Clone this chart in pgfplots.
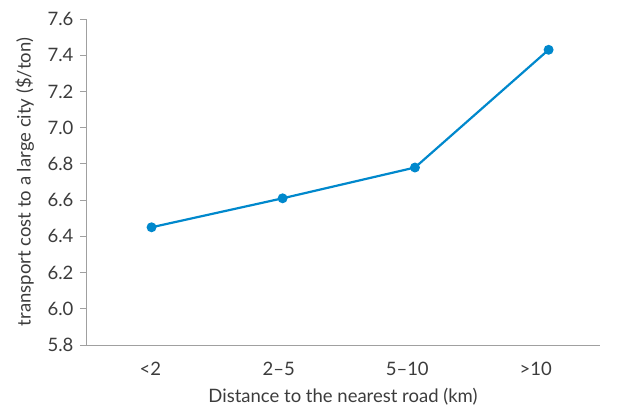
\documentclass[border=0pt]{standalone}
\usepackage{fontspec}
\setmainfont{Lato}
\usepackage{pgfplots}
\pgfplotsset{compat=1.18}
\definecolor{lineblue}{RGB}{0,136,204}
\definecolor{axisgray}{RGB}{160,160,160}
\definecolor{textgray}{RGB}{60,60,60}
\begin{document}
\begin{tikzpicture}
\begin{axis}[
  name=main,
  scale only axis,
  width=514pt, height=326pt,
  xmin=0, xmax=4,
  ymin=5.8, ymax=7.6,
  ytick={5.8,6.0,...,7.6},
  yticklabel style={/pgf/number format/fixed,/pgf/number format/fixed zerofill,/pgf/number format/precision=1, xshift=-3pt},
  /pgf/number format/assume math mode=true,
  xtick={0.5,1.5,2.5,3.5},
  xticklabels={<2,2--5,5--10,>10},
  extra x ticks={0,1,2,3,4},
  extra x tick labels={},
  extra x tick style={major tick length=7pt, tick style={axisgray, line width=0.8pt}},
  major x tick style={draw=none},
  axis x line*=bottom,
  axis y line*=left,
  axis line style={axisgray, line width=0.8pt, -},
  tick style={axisgray, line width=0.8pt},
  tick align=outside,
  major tick length=6pt,
  ticklabel style={font=\fontsize{18.5}{22}\selectfont, text=textgray},
  xticklabel style={yshift=-8pt},
  xlabel={Distance to the nearest road (km)},
  ylabel={transport cost to a large city (\$/ton)},
  label style={font=\fontsize{18.5}{22}\selectfont, text=textgray},
  xlabel style={at={(axis description cs:0.5,-0.16)}, anchor=center},
  ylabel style={at={(axis description cs:-0.119,0.5)}, anchor=center, rotate=0},
  clip=false,
]
\addplot[lineblue, line width=2.2pt, mark=*, mark size=3.8pt, mark options={fill=lineblue, draw=lineblue}]
  coordinates {(0.51,6.45) (1.53,6.61) (2.56,6.78) (3.6,7.43)};
\end{axis}
\path (main.south west) ++(-86pt,-71pt) coordinate (bbsw);
\path (main.south west) ++(531pt,345pt) coordinate (bbne);
\useasboundingbox (bbsw) rectangle (bbne);
\end{tikzpicture}
\end{document}
